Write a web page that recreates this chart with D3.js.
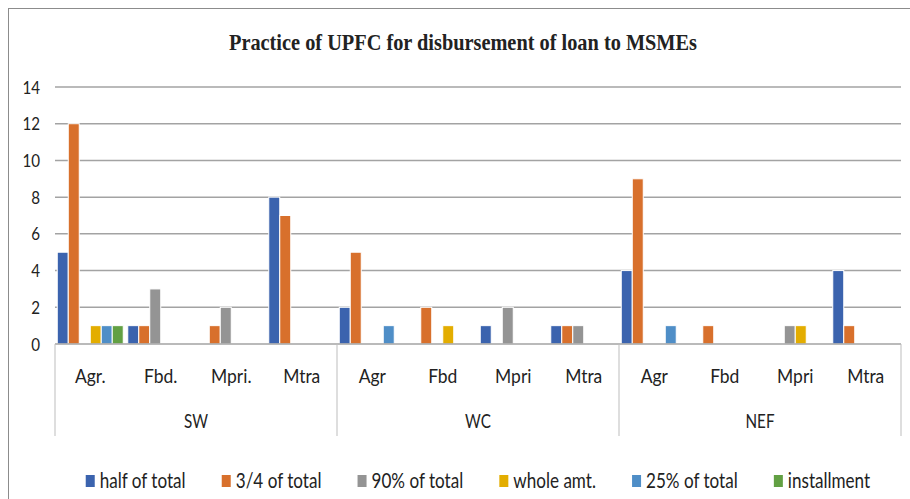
<!DOCTYPE html>
<html>
<head>
<meta charset="utf-8">
<script src="https://cdn.jsdelivr.net/npm/d3@7"></script>
<style>
  body { margin: 0; background: #fff; }
  svg text { font-family: Lato, "Liberation Sans", sans-serif; fill: #222; }
</style>
</head>
<body>
<div id="elements"></div>
<script>
'use strict';
// chart data
var groups = ["SW", "WC", "NEF"];
var subCategories = [
    ["Agr.", "Fbd.", "Mpri.", "Mtra"],
    ["Agr", "Fbd", "Mpri", "Mtra"],
    ["Agr", "Fbd", "Mpri", "Mtra"]
];
var seriesNames = ["half of total", "3/4 of total", "90% of total", "whole amt.", "25% of total", "installment"];
var seriesColors = ["#3b63ae", "#d8702c", "#949494", "#e3ad00", "#4f8ec7", "#62a043"];
// one value per sub category, SW (Agr, Fbd, Mpri, Mtra), WC (...), NEF (...)
var halfOfTotal   = [5, 1, 0, 8,  2, 0, 1, 1,  4, 0, 0, 4];
var threeQuarter  = [12, 1, 1, 7, 5, 2, 0, 1,  9, 1, 0, 1];
var ninetyPct     = [0, 3, 2, 0,  0, 0, 2, 1,  0, 0, 1, 0];
var wholeAmt      = [1, 0, 0, 0,  0, 1, 0, 0,  0, 0, 1, 0];
var quarterPct    = [1, 0, 0, 0,  1, 0, 0, 0,  1, 0, 0, 0];
var installment   = [1, 0, 0, 0,  0, 0, 0, 0,  0, 0, 0, 0];
var yTicks = [0, 2, 4, 6, 8, 10, 12, 14];
var title = "Practice of UPFC for disbursement of loan to MSMEs";

var seriesValues = [halfOfTotal, threeQuarter, ninetyPct, wholeAmt, quarterPct, installment];

var width = 910, height = 499;
var svg = d3.select("#elements").append("svg")
    .attr("width", width).attr("height", height);

// outer chart border
svg.append("rect")
    .attr("x", 8.5).attr("y", 8.5)
    .attr("width", 920).attr("height", 520)
    .attr("fill", "none").attr("stroke", "#8c8c8c").attr("stroke-width", 1);

var plot = {left: 55, right: 901, top: 87, bottom: 344};

// build the flat category list
var cats = [];
groups.forEach(function(g, gi) {
    subCategories[gi].forEach(function(s, si) {
        cats.push({group: g, gi: gi, label: s, key: gi + "-" + si});
    });
});

var x0 = d3.scaleBand()
    .domain(cats.map(function(c) { return c.key; }))
    .range([plot.left, plot.right])
    .paddingInner(0.064)
    .paddingOuter(0.032);
var x1 = d3.scaleBand()
    .domain(seriesNames)
    .range([0, x0.bandwidth()]);
var y = d3.scaleLinear().domain([0, 14]).range([plot.bottom, plot.top]);
var step = (plot.right - plot.left) / cats.length;

// squished text helper: scales text horizontally so a sample string hits a width
function fitScale(sample, size, weight, family, target) {
    var t = svg.append("text").attr("font-size", size).attr("font-weight", weight || null)
        .style("font-family", family || null).text(sample);
    var w = t.node().getComputedTextLength();
    t.remove();
    return target / w;
}
function addText(parent, x, yy, str, size, sx, anchor) {
    return parent.append("text")
        .attr("transform", "translate(" + x + "," + yy + ") scale(" + sx + ",1)")
        .attr("font-size", size)
        .attr("text-anchor", anchor || "middle")
        .text(str);
}

// gridlines
var grid = svg.append("g");
grid.selectAll("line").data(yTicks.filter(function(t) { return t > 0; })).enter().append("line")
    .attr("x1", plot.left).attr("x2", plot.right)
    .attr("y1", function(d) { return y(d); }).attr("y2", function(d) { return y(d); })
    .attr("stroke", "#a3a3a3").attr("stroke-width", 1.5);

// y tick labels
var tickScale = fitScale("14", 17, null, null, 17.6);
var yAxis = svg.append("g");
yTicks.forEach(function(t) {
    addText(yAxis, 40, y(t) + 6.5, String(t), 17, tickScale, "end");
});

// bars
var bars = svg.append("g");
seriesNames.forEach(function(name, si) {
    bars.selectAll(null)
        .data(cats.map(function(c, ci) { return {cat: c, value: seriesValues[si][ci]}; })
            .filter(function(d) { return d.value > 0; }))
        .enter().append("rect")
        .attr("x", function(d) { return x0(d.cat.key) + x1(name); })
        .attr("width", x1.bandwidth())
        .attr("y", function(d) { return y(d.value); })
        .attr("height", function(d) { return y(0) - y(d.value); })
        .attr("fill", seriesColors[si])
        .attr("stroke", "#fff").attr("stroke-width", 1);
});

// category axis: baseline and group dividers
var axis = svg.append("g");
axis.append("line")
    .attr("x1", plot.left).attr("x2", plot.right)
    .attr("y1", plot.bottom).attr("y2", plot.bottom)
    .attr("stroke", "#a3a3a3").attr("stroke-width", 1.5);
var dividers = [0, 4, 8, 12].map(function(i) { return plot.left + i * step; });
axis.selectAll("line.div").data(dividers).enter().append("line")
    .attr("class", "div")
    .attr("x1", function(d) { return d; }).attr("x2", function(d) { return d; })
    .attr("y1", plot.bottom).attr("y2", 436)
    .attr("stroke", "#bdbdbd").attr("stroke-width", 1);

var catScale = fitScale("Agr.", 19, null, null, 30.7);
cats.forEach(function(c, ci) {
    addText(axis, plot.left + (ci + 0.5) * step, 383, c.label, 19, catScale);
});
var groupScale = fitScale("SW", 18.5, null, null, 24);
groups.forEach(function(g, gi) {
    addText(axis, plot.left + (gi * 4 + 2) * step, 428, g, 18.5, groupScale);
});

// title
svg.append("text")
    .attr("x", 463).attr("y", 50)
    .attr("text-anchor", "middle")
    .attr("font-size", 23).attr("font-weight", "bold")
    .style("font-family", "'Liberation Serif', 'DejaVu Serif', serif")
    .attr("textLength", 468).attr("lengthAdjust", "spacingAndGlyphs")
    .text(title);

// legend
var legScale = fitScale("half of total", 21, null, null, 86);
var legend = svg.append("g");
var items = seriesNames.map(function(n) {
    var t = svg.append("text").attr("font-size", 21).text(n);
    var w = t.node().getComputedTextLength() * legScale;
    t.remove();
    return {name: n, w: w};
});
var markerW = 9, markerGap = 5, itemGap = 36;
var total = d3.sum(items, function(d) { return markerW + markerGap + d.w; }) + itemGap * (items.length - 1);
var lx = 478 - total / 2;
items.forEach(function(it, i) {
    legend.append("rect")
        .attr("x", lx).attr("y", 475)
        .attr("width", markerW).attr("height", 12)
        .attr("fill", seriesColors[i]);
    addText(legend, lx + markerW + markerGap, 488, it.name, 21, legScale, "start");
    lx += markerW + markerGap + it.w + itemGap;
});
</script>
</body>
</html>
